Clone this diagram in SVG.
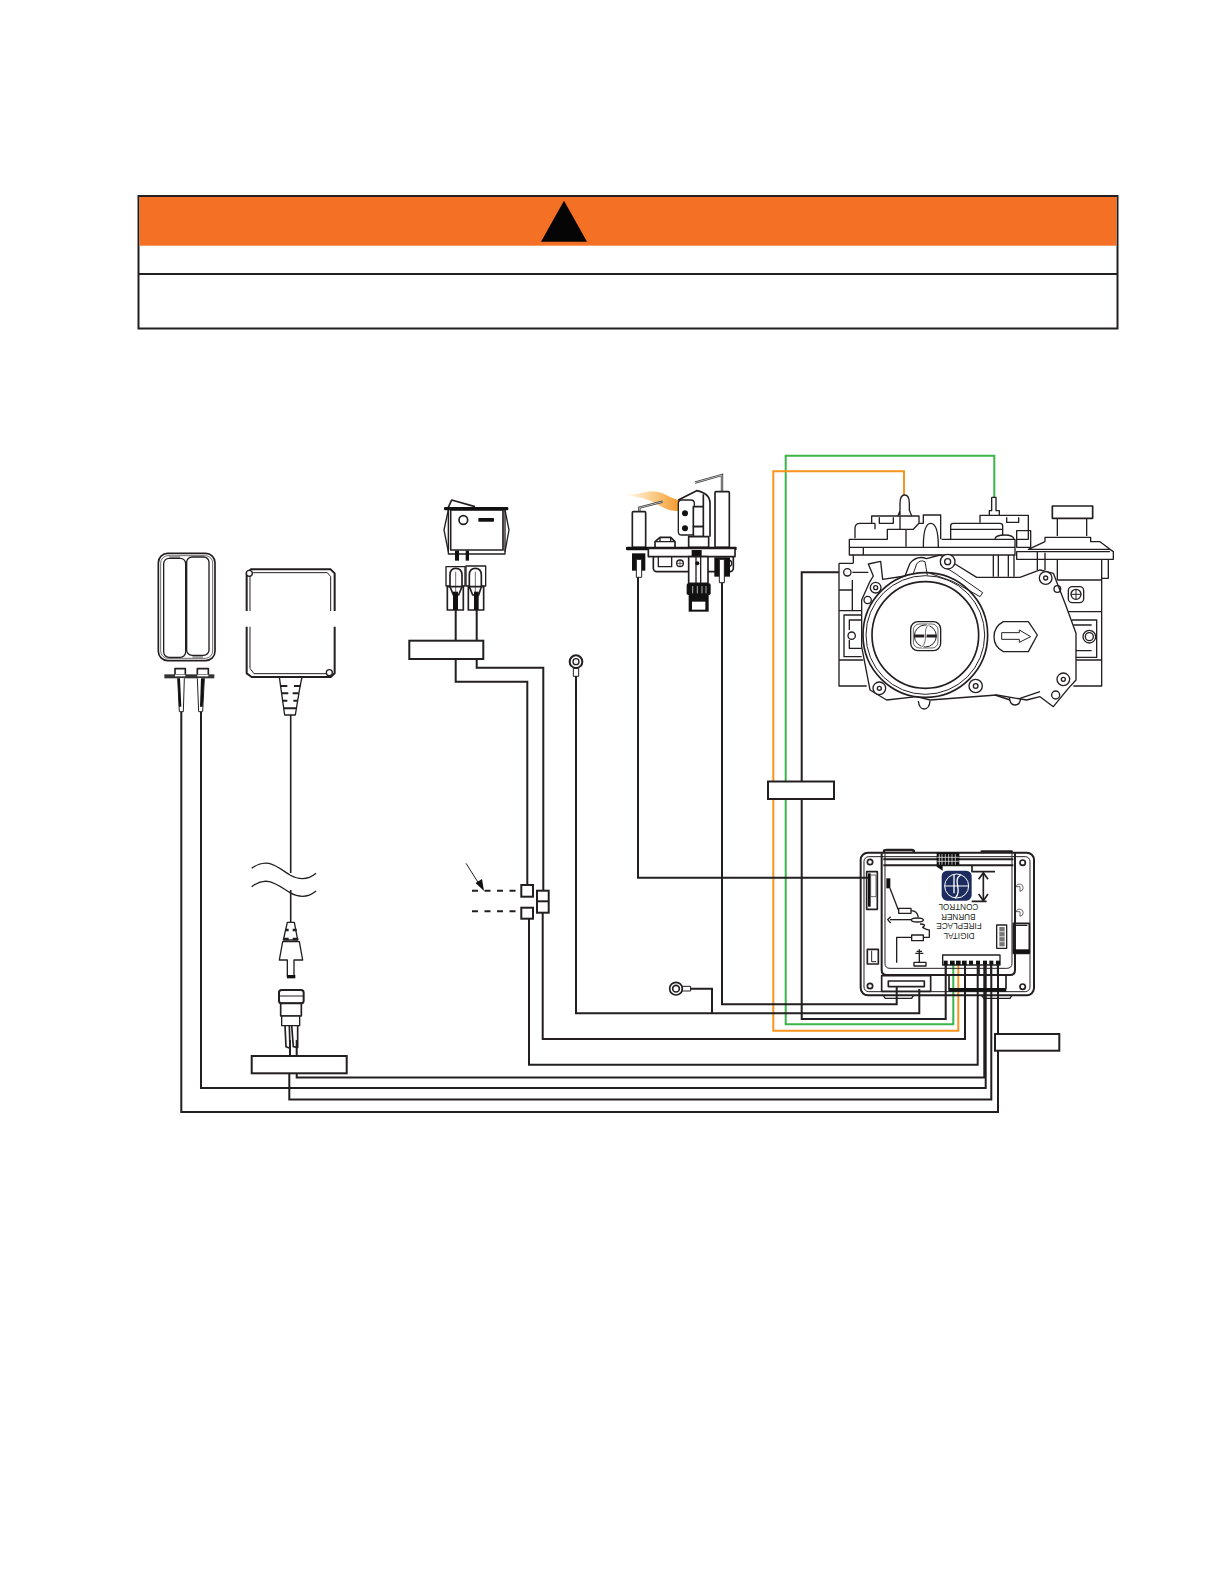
<svg xmlns="http://www.w3.org/2000/svg" width="1225" height="1585" viewBox="0 0 1225 1585">
<style>
.w{fill:none;stroke:#231f20}
.g{fill:none;stroke:#39b54a;stroke-width:2}
.o{fill:none;stroke:#f7941d;stroke-width:2}
.l{fill:#fff;stroke:#231f20;stroke-width:2}
.z{fill:none;stroke:#231f20;stroke-linejoin:round}
.zw{fill:#fff;stroke:#231f20;stroke-linejoin:round}
.zt{fill:none;stroke:#231f20;stroke-linejoin:round}
.k{fill:#111;stroke:none}
.t{font-family:"Liberation Sans",Arial,sans-serif;font-size:24.5px;fill:#231f20;text-anchor:middle}
</style>
<defs>
<linearGradient id="fl" x1="0" x2="1" y1="0" y2="0"><stop offset="0" stop-color="#fff"/><stop offset="0.5" stop-color="#fbd08f"/><stop offset="1" stop-color="#f49a2e"/></linearGradient>
</defs>
<rect width="1225" height="1585" fill="#fff"/>

<g id="warning">
<rect x="138.500" y="196" width="979" height="132.500" fill="#fff" stroke="#231f20" stroke-width="2"/>
<rect x="139.500" y="197" width="977" height="48.700" fill="#f37025"/>
<line x1="138.500" y1="274" x2="1117.500" y2="274" stroke="#231f20" stroke-width="2"/>
<polygon points="564,200.700 587,241.700 541,241.700" fill="#050505"/>
</g>

<g id="connectors" stroke-width="2">
<path class="g" d="M994.300 497V455.700H785.700V1024.300H953.300V963"/>
<path class="o" d="M904 495V471.300H773.300V1030.700H958.300V962"/>
<path class="w" d="M839 572.300H801.700V1019H945.700V962"/>
<path class="w" d="M638 577V877.700H868"/>
<path class="w" d="M722 583V1004.300H896.700V987"/>
<path class="w" d="M690 988.700H712V1013.300"/>
<path class="w" d="M576 676V1013.300H919.300V989"/>
<path class="w" d="M476.700 659V667.700H543.300V890.700"/>
<path class="w" d="M542.700 912.700V1039H965V963"/>
<path class="w" d="M455.700 659V681.700H527.300V885"/>
<path class="w" d="M529 918.700V1064.700H977.700V963"/>
<path class="w" d="M201 712V1088H985.700V963"/>
<path class="w" d="M181.300 712V1112H998V963"/>
<path class="w" d="M289.300 1073V1099.500H991.300V963"/>
<path class="w" d="M296.700 1073V1077.500H984.300V963"/>
<path class="w" d="M290.700 715V873M290.700 890V922" stroke-width="1.600"/>
<path class="w" d="M455.700 610V641M476.700 610V641"/>
<path class="w" d="M290 1040V1056M296.700 1040V1056"/>
<path class="w" d="M472 890.700H521.300M472 911.300H521.300" stroke-dasharray="6 6.500"/>
<path class="w" d="M466 863.300L481 887" stroke-width="1"/>
<polygon class="k" points="484,891 475.500,883 482,879"/>
</g>

<g id="label-valve"><rect class="l" x="768" y="781.500" width="66" height="17.500"/></g>
<g id="label-control"><rect class="l" x="995" y="1034" width="64.300" height="16.700"/></g>
<g id="label-power"><rect class="l" x="251.700" y="1056" width="95" height="17.300"/></g>
<g id="label-switch"><rect class="l" x="409.300" y="640.700" width="74" height="18.300"/></g>
<g id="junctions">
<rect class="l" x="521.300" y="885" width="11.700" height="11.700"/>
<rect class="l" x="521.300" y="907.700" width="11.700" height="11"/>
<rect class="l" x="537" y="890.700" width="11.700" height="22"/>
<line x1="537" y1="901.300" x2="548.700" y2="901.300" stroke="#231f20" stroke-width="2"/>
</g>

<g id="ground-ring-2" transform="translate(640,960) scale(.33333)" stroke-width="4">
<circle class="z" cx="108" cy="86" r="19" stroke-width="5"/><circle class="z" cx="108" cy="86" r="10" stroke-width="5"/>
<rect class="z" x="127" y="79" width="25" height="14" stroke-width="3"/>
</g>

<g id="ground-ring-1" transform="translate(400,480) scale(.33333)" stroke-width="4">
<circle class="z" cx="528" cy="545" r="19" stroke-width="6"/><circle class="z" cx="528" cy="545" r="9" stroke-width="4"/>
<rect class="z" x="520" y="565" width="16" height="24" stroke-width="3"/>
<line class="z" x1="528" y1="589" x2="528" y2="660"/>
</g>

<g id="gas-valve" transform="translate(820,440) scale(.33333)" stroke-width="4">
<path class="z" d="M240 225V190Q240 165 254 165Q268 165 268 190V210L275 228M240 212L234 228M240 228V268M258 268V320"/>
<path class="z" d="M105 295V265Q105 250 120 250H155V228H297V250L280 268H202V298H88V345H585V298H365M165 250V268M155 250H165"/>
<path class="z" d="M178 232V250H220V232M88 322H585M130 322V345M297 250H310V225H362V298M310 320Q310 250 332 250Q355 250 355 320"/>
<path class="z" d="M515 172H528V212H538V226H480V248M508 226V212H515V172M538 226H625V298H590M560 232V247H596V232"/>
<path class="z" d="M392 298V258Q392 250 400 250H540Q548 250 548 258V285M392 268H548M525 298Q525 285 555 285Q580 285 582 298"/>
<rect class="z" x="590" y="272" width="42" height="50"/>
<rect class="z" x="697" y="198" width="121" height="37" stroke-width="5"/>
<path class="z" d="M712 235V288M800 235V288M675 305V292H812V305H840L870 328H625L675 305M870 328L880 335V358H590V335H870"/>
<path class="z" d="M652 335V390M675 338V390M712 358V420M845 360V738H760M845 415H865V358M712 420H845M740 515H845M760 660H845M520 345V410M535 345V410M565 345V410M582 345V410"/>
<path class="z" d="M100 345V370M57 370H100M57 370V738H140M57 512H125M57 660H130M97 420V510M57 450H97M97 397H145"/>
<path class="z" d="M125 525H72V650H125M125 540H88V570M125 625H88V600M750 640V652H830V540H755M815 555H760M815 632H755" />
<path class="zw" stroke-width="4" d="M125 480L148 428L160 408L145 372L182 364L188 418L255 408L270 370Q290 345 320 356L360 345L410 375L470 412H600L660 390L700 400L735 490L768 580L768 720L745 745L700 800L660 770L620 780L530 765L330 780L290 770L200 780L150 750L125 620Z"/>
<path class="z" d="M280 400L290 372Q300 358 315 365L322 405M330 400L400 425L480 470L488 458L405 400L360 372" stroke-width="3"/>
<circle class="z" cx="316" cy="585" r="187" stroke-width="5"/>
<circle class="z" cx="316" cy="585" r="178" stroke-width="3"/>
<circle class="z" cx="316" cy="585" r="160" stroke-width="5"/>
<rect class="z" x="272" y="545" width="90" height="87" rx="22" stroke-width="4"/>
<rect class="z" x="280" y="552" width="74" height="72" rx="18" stroke-width="2"/>
<circle class="z" cx="316" cy="588" r="33" stroke-width="3"/>
<path class="z" d="M283 588H350" stroke-width="9"/>
<path d="M327 553C305 570 328 600 305 622" fill="none" stroke="#fff" stroke-width="7"/>
<path class="z" d="M327 553C305 570 328 600 305 622" stroke-width="2"/>
<path class="z" d="M550 545H625L652 585L625 635H550Q522 620 522 590Q522 560 550 545Z"/>
<path class="z" d="M545 578H598V570L632 590L598 607V598H545Z" stroke-width="3"/>
<circle class="zw" cx="383" cy="365" r="22"/><circle class="z" cx="383" cy="365" r="9"/>
<circle class="zw" cx="167" cy="443" r="16"/><circle class="z" cx="167" cy="443" r="6"/>
<circle class="z" cx="143" cy="480" r="11"/>
<circle class="zw" cx="677" cy="414" r="19"/><circle class="z" cx="677" cy="414" r="6"/>
<circle class="z" cx="712" cy="447" r="10"/>
<circle class="zw" cx="730" cy="718" r="19"/><circle class="z" cx="730" cy="718" r="6"/>
<circle class="zw" cx="467" cy="738" r="20"/><circle class="z" cx="467" cy="738" r="7"/>
<circle class="zw" cx="178" cy="745" r="19"/><circle class="z" cx="178" cy="745" r="6"/>
<circle class="z" cx="707" cy="765" r="12"/>
<circle class="z" cx="82" cy="397" r="11"/>
<circle class="z" cx="95" cy="587" r="11"/>
<circle class="z" cx="808" cy="590" r="19"/><circle class="z" cx="808" cy="590" r="12"/>
<rect class="z" x="745" y="440" width="46" height="48" rx="12"/>
<circle class="z" cx="768" cy="463" r="15"/><path class="z" d="M753 463H783M768 448V478" stroke-width="3"/>
<path class="z" d="M295 783Q298 807 312 807Q328 807 330 783M568 772Q570 795 585 795Q600 795 602 775M525 765L570 780M600 775L660 755"/>
</g>

<g id="control-board" transform="translate(840,830) scale(.33333)" stroke-width="4">
<path class="zt" stroke-width="7" d="M132 68V62Q132 60 140 60H215Q222 60 222 66M425 68V64H515V68" />
<path class="zt" d="M130 497L136 505H215L220 497M425 497L432 505H510L515 497" stroke-width="4"/>
<rect class="z" x="62" y="68" width="520" height="428" rx="22" stroke-width="6"/>
<rect class="z" x="72" y="80" width="498" height="405" rx="14" stroke-width="3"/>
<path class="z" d="M125 70V420Q125 435 140 435H510Q525 435 525 420V70" stroke-width="6"/>
<path class="z" d="M135 70V400Q135 415 150 415H500Q516 415 516 400V70" stroke-width="3"/>
<path class="z" d="M130 88H520M130 106H520" stroke-width="6"/>
<path class="k" d="M290 68H358V106H308V122L290 110Z"/>
<path d="M298 72V104M306 72V104M316 72V104M326 72V104M336 72V104M346 72V104M292 82H358M292 94H358" stroke="#fff" stroke-width="2"/>
<circle class="z" cx="90" cy="96" r="8" stroke-width="5"/><circle class="z" cx="548" cy="98" r="8" stroke-width="5"/>
<circle class="z" cx="90" cy="468" r="8" stroke-width="5"/><circle class="z" cx="548" cy="470" r="8" stroke-width="5"/>
<rect class="z" x="80" y="125" width="32" height="113" stroke-width="5"/>
<rect class="k" x="84" y="130" width="8" height="100"/>
<rect class="zw" x="92" y="135" width="16" height="65" stroke-width="2"/>
<rect x="305" y="122" width="90" height="90" rx="16" fill="#1c2c5f"/>
<circle cx="350" cy="168" r="36" fill="none" stroke="#fff" stroke-width="3"/>
<path d="M314 168H386" stroke="#fff" stroke-width="3"/>
<path d="M362 135C335 150 370 180 345 205M342 135V190" fill="none" stroke="#fff" stroke-width="4"/>
<path class="z" d="M396 108V125H465M395 214H440" stroke-width="5"/>
<path class="z" d="M430 128V212" stroke-width="5"/>
<path class="z" d="M416 148L430 128L444 148M416 192L430 212L444 192" stroke-width="5"/>
<text class="t" transform="translate(355,222) rotate(180)">CONTROL</text>
<text class="t" transform="translate(355,251) rotate(180)">BURNER</text>
<text class="t" transform="translate(357,280) rotate(180)">FIREPLACE</text>
<text class="t" transform="translate(357,309) rotate(180)">DIGITAL</text>
<path class="k" d="M139 145H151V175H139Z"/>
<path class="z" d="M150 175L175 240"/>
<rect class="z" x="176" y="235" width="37" height="15"/>
<path class="z" d="M213 242Q232 242 235 262"/>
<ellipse class="z" cx="232" cy="270" rx="18" ry="6"/>
<path class="z" d="M150 269H213"/>
<path class="z" d="M152 260L143 269L152 279"/>
<path class="z" d="M240 282Q262 282 248 292Q262 300 268 300V322H250"/>
<rect class="z" x="215" y="315" width="35" height="17"/>
<path class="z" d="M215 322H170V398"/>
<path class="z" d="M238 358V398M226 370H250M230 364H246"/>
<rect class="z" x="222" y="397" width="36" height="11"/>
<rect class="z" x="82" y="358" width="33" height="44" stroke-width="5"/>
<path class="z" d="M95 362V395H108" stroke-width="3"/>
<rect class="z" x="470" y="285" width="30" height="70" stroke-width="4"/>
<path d="M478 291H494V349H478Z" fill="#777"/>
<path d="M478 305H494M478 320H494M478 335H494" stroke="#fff" stroke-width="2"/>
<rect class="z" x="520" y="280" width="48" height="90" stroke-width="5"/>
<rect class="k" x="520" y="358" width="48" height="12"/>
<path class="z" d="M525 286H562"/>
<path class="z" d="M528 170A11 11 0 1 1 540 184V170H528M528 245A11 11 0 1 1 540 259V245H528" stroke-width="2"/>
<rect class="z" x="308" y="375" width="172" height="30" stroke-width="4"/>
<g class="k"><rect x="311" y="392" width="12" height="13"/><rect x="330" y="392" width="14" height="13"/><rect x="348" y="392" width="14" height="13"/><rect x="366" y="392" width="14" height="13"/><rect x="387" y="392" width="12" height="12"/><rect x="408" y="392" width="12" height="12"/><rect x="429" y="392" width="12" height="12"/><rect x="448" y="392" width="12" height="12"/><rect x="468" y="392" width="12" height="12"/></g>
<path class="z" d="M317 405V437M435 405V437M417 405V437M453 405V437M473 405V437M375 405V437" stroke-width="5"/>
<path class="z" d="M498 437V476M327 437V476" stroke-width="5"/>
<rect class="k" x="325" y="474" width="174" height="11"/>
<rect class="z" x="125" y="437" width="147" height="47" stroke-width="5"/>
<rect class="z" x="145" y="453" width="108" height="17" stroke-width="5"/>
</g>

<g id="pilot" transform="translate(600,460) scale(.33333)" stroke-width="4">
<path fill="url(#fl)" d="M70 100C110 110 130 90 170 95C200 100 210 115 237 120L237 153C200 155 180 135 150 122C120 110 95 112 70 100Z"/>
<path d="M118 155V143L188 125" fill="none" stroke="#333" stroke-width="7"/>
<path d="M118 155V143L188 125" fill="none" stroke="#fff" stroke-width="2"/>
<path d="M366 95V45L285 68" fill="none" stroke="#333" stroke-width="7"/>
<path d="M366 95V45L285 68" fill="none" stroke="#fff" stroke-width="2"/>
<rect class="zw" x="97" y="155" width="40" height="107" rx="3" stroke-width="5"/>
<rect class="zw" x="345" y="95" width="43" height="167" rx="3" stroke-width="5"/>
<path class="z" d="M235 120L290 92Q330 100 330 130V230M310 103V140" stroke-width="5"/>
<rect class="zw" x="235" y="120" width="48" height="105" rx="10" stroke-width="4"/>
<circle class="k" cx="255" cy="160" r="9"/><circle class="k" cx="255" cy="205" r="9"/>
<rect class="zw" x="280" y="140" width="30" height="60" stroke-width="5"/>
<rect class="zw" x="280" y="200" width="30" height="30" stroke-width="5"/>
<rect class="zw" x="266" y="230" width="60" height="32" stroke-width="5"/>
<path class="zw" d="M165 262V245L180 232H212L225 245V262" stroke-width="5"/>
<path class="z" d="M165 245H225M180 232V245M212 232V245"/>
<rect class="zw" x="160" y="285" width="240" height="50" rx="10" stroke-width="5"/>
<path class="z" d="M175 290V320H215V290"/>
<circle class="z" cx="240" cy="310" r="10"/><path class="z" d="M230 310H250M240 300V320" stroke-width="2"/>
<circle class="z" cx="385" cy="310" r="10"/>
<rect class="k" x="78" y="260" width="332" height="11" rx="3"/>
<rect class="zw" x="145" y="265" width="260" height="25" stroke-width="5"/>
<rect class="k" x="275" y="270" width="30" height="18"/>
<rect class="zw" x="266" y="290" width="58" height="80" stroke-width="5"/>
<path class="z" d="M288 290V370M302 290V370"/>
<circle class="k" cx="292" cy="310" r="6"/>
<rect class="k" x="260" y="370" width="72" height="35" rx="5"/>
<rect class="k" x="266" y="405" width="60" height="50"/>
<rect x="276" y="425" width="40" height="24" fill="#fff"/>
<path d="M278 378V400M292 378V400M306 378V400M318 378V400" stroke="#fff" stroke-width="2"/>
<rect class="k" x="96" y="280" width="40" height="52"/>
<rect class="zw" x="109" y="298" width="16" height="54" stroke-width="3"/>
<rect class="k" x="343" y="292" width="47" height="58"/>
<rect class="zw" x="358" y="298" width="15" height="70" stroke-width="3"/>
<path class="z" d="M114 352V480M366 368V480" stroke-width="4"/>
</g>

<g id="battery" transform="translate(140,530) scale(.33333)" stroke-width="4">
<rect class="z" x="55" y="70" width="170" height="322" rx="28" stroke-width="5"/>
<rect class="z" x="62" y="77" width="156" height="308" rx="22" stroke-width="2"/>
<rect fill="#999" x="88" y="76" width="32" height="10" rx="3"/>
<rect fill="#999" x="157" y="374" width="32" height="10" rx="3"/>
<rect class="zw" x="71" y="85" width="66" height="297" rx="16" stroke-width="4"/>
<rect class="zw" x="140" y="81" width="67" height="295" rx="16" stroke-width="4"/>
<rect class="zw" x="105" y="416" width="31" height="20" stroke-width="5"/>
<rect class="zw" x="172" y="416" width="33" height="20" stroke-width="5"/>
<rect x="73" y="433" width="150" height="12" fill="#333"/>
<rect x="105" y="434" width="31" height="5" fill="#fff"/><rect x="172" y="434" width="33" height="5" fill="#fff"/>
<path class="zw" d="M113 445L118 545H130L133 445" stroke-width="3"/>
<path class="zw" d="M172 445L176 545H188L193 445" stroke-width="3"/>
<path class="k" d="M113 445H120L124 530H117Z"/><path class="k" d="M183 445H193L188 530H180Z"/>
</g>

<g id="adapter" transform="translate(140,530) scale(.33333)" stroke-width="4">
<path class="z" d="M320 243V130L333 118H572L584 130V243M320 290V430L335 441H572L584 430V290" stroke-width="6"/>
<path class="z" d="M330 243V140L340 128H562L572 140V243M330 290V415L342 431H562" stroke-width="3"/>
<circle class="zw" cx="328" cy="130" r="9" stroke-width="4"/>
<circle class="zw" cx="568" cy="428" r="9" stroke-width="4"/>
<path class="z" d="M418 441L422 470L434 555H466L480 470L486 441"/>
<path class="z" d="M422 468H442M462 468H482M426 490H445M458 490H476M428 512H442M460 512H474M432 535H468" stroke-width="6"/>
</g>

<g id="cord-break" transform="translate(230,840) scale(.33333)" stroke-width="4">
<path class="z" d="M65 85C110 50 140 80 180 105C215 125 240 115 258 100"/>
<path class="z" d="M65 140C110 105 140 133 180 158C215 178 240 168 258 153"/>
</g>

<g id="plug" transform="translate(230,840) scale(.33333)" stroke-width="4">
<path class="zw" d="M172 247H193L203 300H160Z"/>
<path class="z" d="M166 270H176M188 270H200M162 297H176M188 297H205" stroke-width="7"/>
<path class="zw" d="M158 305H208L218 360H192V410H172V360H148Z"/>
<rect class="k" x="171" y="405" width="25" height="10"/>
<rect class="zw" x="147" y="450" width="74" height="40" rx="8" stroke-width="6"/>
<path class="z" d="M148 468H220" stroke-width="3"/>
<rect class="zw" x="152" y="490" width="62" height="38" stroke-width="5"/>
<rect class="zw" x="155" y="528" width="54" height="29" stroke-width="4"/>
<path class="z" d="M165 557L168 620L180 625L178 557M185 557L190 620L203 622L203 557" stroke-width="5"/>
</g>

<g id="rocker-switch" transform="translate(400,480) scale(.33333)" stroke-width="4">
<path class="z" d="M145 82L155 60L225 80" stroke-width="5"/>
<path class="z" d="M145 90L132 150L145 215M315 90L327 150L315 215" stroke-width="4"/>
<path class="z" d="M145 90V222H315V90" stroke-width="4"/>
<rect class="zw" x="152" y="90" width="157" height="120" stroke-width="5"/>
<rect class="k" x="132" y="81" width="193" height="10" rx="3"/>
<circle class="z" cx="190" cy="120" r="13" stroke-width="5"/>
<rect class="k" x="235" y="114" width="47" height="11" rx="2"/>
<rect class="k" x="165" y="212" width="12" height="30"/><rect class="k" x="197" y="212" width="10" height="30"/>
<rect class="z" x="138" y="260" width="57" height="58"/>
<rect class="z" x="198" y="258" width="59" height="60"/>
<path class="zw" d="M150 320V285Q150 265 167 265Q186 265 186 285V320L176 345H160Z" stroke-width="5"/>
<path class="zw" d="M208 320V285Q208 265 226 265Q244 265 244 285V320L236 345H218Z" stroke-width="5"/>
<rect class="z" x="142" y="320" width="48" height="70" stroke-width="5"/>
<rect class="z" x="205" y="320" width="46" height="70" stroke-width="5"/>
<rect class="k" x="159" y="335" width="15" height="55"/><rect class="k" x="222" y="335" width="14" height="55"/>
<path class="z" d="M167 275V340M226 275V340" stroke-width="2"/>
</g>
</svg>
